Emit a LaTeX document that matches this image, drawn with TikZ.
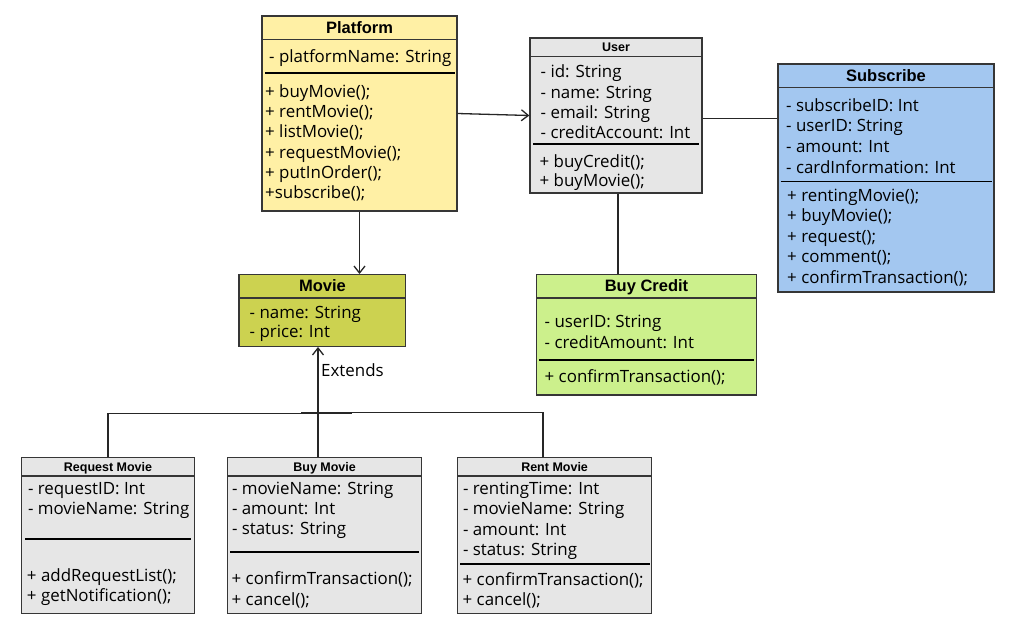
\documentclass[tikz,border=0pt]{standalone}
\usepackage{fontspec}
\setmainfont{Open Sans}
\newfontfamily\headfont{Liberation Sans}
\usetikzlibrary{arrows.meta}
\definecolor{platformfill}{HTML}{FFF0A5}
\definecolor{moviefill}{HTML}{CCD250}
\definecolor{creditfill}{HTML}{CCF08C}
\definecolor{subfill}{HTML}{A3C7F0}
\definecolor{grayfill}{HTML}{E6E6E6}
\definecolor{boxline}{HTML}{363636}
\begin{document}
\begin{tikzpicture}[x=1pt, y=-1pt]
\tikzset{classbox/.style={draw=boxline, line width=1.3pt, inner sep=0pt},
  bigtitle/.style={anchor=base, inner sep=0pt, font=\headfont\bfseries\fontsize{16.5}{18}\selectfont},
  smalltitle/.style={anchor=base, inner sep=0pt, font=\headfont\bfseries\fontsize{12.5}{14}\selectfont},
  members/.style={anchor=base west, inner sep=0pt, align=left, font=\fontsize{16.9}{20.4}\selectfont},
  sepline/.style={draw=boxline, line width=1.3pt},
  thickline/.style={draw=black, line width=2.2pt},
  link/.style={draw=black!85, line width=1.3pt},
  assoc/.style={link, -{Straight Barb[length=7pt, width=11pt]}}}
\useasboundingbox (0,0) rectangle (1010,633);
% class boxes
\node[classbox, fill=platformfill, minimum width=195pt, minimum height=195pt] (Platform) at (359.5,113.5) {};
\node[classbox, fill=grayfill, minimum width=172pt, minimum height=155pt] (User) at (616,115.5) {};
\node[classbox, fill=subfill, minimum width=216pt, minimum height=228pt] (Subscribe) at (886,178) {};
\node[classbox, fill=creditfill, minimum width=219.6pt, minimum height=120.3pt] (BuyCredit) at (646.5,334.9) {};
\node[classbox, fill=moviefill, minimum width=166.7pt, minimum height=71.6pt] (Movie) at (322.4,310.5) {};
\node[classbox, fill=grayfill, minimum width=172.6pt, minimum height=155.6pt] (RequestMovie) at (108,535.5) {};
\node[classbox, fill=grayfill, minimum width=194.2pt, minimum height=155.6pt] (BuyMovie) at (324.6,535.5) {};
\node[classbox, fill=grayfill, minimum width=194.2pt, minimum height=155.6pt] (RentMovie) at (554.6,535.5) {};
% titles
\node[bigtitle] (PlatformTitle) at (359.5,33.3) {Platform};
\node[smalltitle] (UserTitle) at (616,51) {User};
\node[bigtitle] (SubscribeTitle) at (886,81.5) {Subscribe};
\node[bigtitle] (BuyCreditTitle) at (646.5,291.5) {Buy Credit};
\node[bigtitle] (MovieTitle) at (322.4,291.3) {Movie};
\node[smalltitle] (RequestMovieTitle) at (108,471) {Request Movie};
\node[smalltitle] (BuyMovieTitle) at (324.6,471) {Buy Movie};
\node[smalltitle] (RentMovieTitle) at (554.6,471) {Rent Movie};
\draw[sepline] (262,39.3) -- (457,39.3);
\draw[sepline] (530,56.7) -- (702,56.7);
\draw[sepline] (778,87.3) -- (994,87.3);
\draw[sepline] (536.7,298) -- (756.3,298);
\draw[sepline] (239,298) -- (405.7,298);
\draw[sepline] (21.7,476) -- (194.3,476);
\draw[sepline] (227.5,476) -- (421.7,476);
\draw[sepline] (457.5,476) -- (651.7,476);
% attributes (anchored at the last line)
\node[members] (PlatformAttr) at (269,62.7) {- platformName: String};
\node[members] (UserAttr) at (540.5,138.9) {- id: String\\- name: String\\- email: String\\- creditAccount: Int};
\node[members, font=\fontsize{16.9}{20.7}\selectfont] (SubscribeAttr) at (786,173.1) {- subscribeID: Int\\- userID: String\\- amount: Int\\- cardInformation: Int};
\node[members] (BuyCreditAttr) at (544.5,348.1) {- userID: String\\- creditAmount: Int};
\node[members, font=\fontsize{16.9}{19.4}\selectfont] (MovieAttr) at (249.5,337.7) {- name: String\\- price: Int};
\node[members] (RequestMovieAttr) at (27.8,514.7) {- requestID: Int\\- movieName: String};
\node[members] (BuyMovieAttr) at (231.8,534.8) {- movieName: String\\- amount: Int\\- status: String};
\node[members] (RentMovieAttr) at (462.8,555.5) {- rentingTime: Int\\- movieName: String\\- amount: Int\\- status: String};
\draw[thickline] (265,73.2) -- (455,73.2);
\draw[thickline] (533.3,144) -- (699,144);
\draw[thickline, line width=1.3pt] (780.7,181.7) -- (991.7,181.7);
\draw[thickline, line width=1.8pt] (539,360) -- (754,360);
\draw[thickline] (25,539) -- (191,539);
\draw[thickline] (230,552) -- (419,552);
\draw[thickline] (460,564.3) -- (650,564.3);
% methods
\node[members, font=\fontsize{16.9}{20.3}\selectfont] (PlatformOps) at (265,198.8) {+ buyMovie();\\+ rentMovie();\\+ listMovie();\\+ requestMovie();\\+ putInOrder();\\+subscribe();};
\node[members, font=\fontsize{16.9}{19.8}\selectfont] (UserOps) at (539.5,186.8) {+ buyCredit();\\+ buyMovie();};
\node[members, font=\fontsize{16.9}{20.6}\selectfont] (SubscribeOps) at (787,283.4) {+ rentingMovie();\\+ buyMovie();\\+ request();\\+ comment();\\+ confirmTransaction();};
\node[members] (BuyCreditOps) at (544.5,382) {+ confirmTransaction();};
\node[members, font=\fontsize{16.9}{20}\selectfont] (RequestMovieOps) at (26.8,601) {+ addRequestList();\\+ getNotification();};
\node[members] (BuyMovieOps) at (231.5,605) {+ confirmTransaction();\\+ cancel();};
\node[members, font=\fontsize{16.9}{20}\selectfont] (RentMovieOps) at (462.5,605.3) {+ confirmTransaction();\\+ cancel();};
% connectors
\draw[assoc] (Platform.east) -- (User.west);
\draw[assoc] (Platform.south) -- (Platform.south |- Movie.north);
\coordinate (SubLink) at ([yshift=-3pt]User.east);
\draw[link] (SubLink) -- (SubLink -| Subscribe.west);
\coordinate (CreditLink) at ([xshift=2pt]User.south);
\draw[link] (CreditLink) -- (CreditLink |- BuyCredit.north);
\coordinate (ExtendsFoot) at ([xshift=-6.6pt]BuyMovie.north);
\draw[assoc] (ExtendsFoot) -- (ExtendsFoot |- Movie.south);
\node[members] (ExtendsLabel) at (321,376) {Extends};
\coordinate (JoinLeft) at (351.7,413.5);
\coordinate (JoinRight) at (301,412.7);
\draw[link] (RequestMovie.north) |- (JoinLeft);
\coordinate (RentFoot) at ([xshift=-11.6pt]RentMovie.north);
\draw[link] (RentFoot) |- (JoinRight);
\end{tikzpicture}
\end{document}
